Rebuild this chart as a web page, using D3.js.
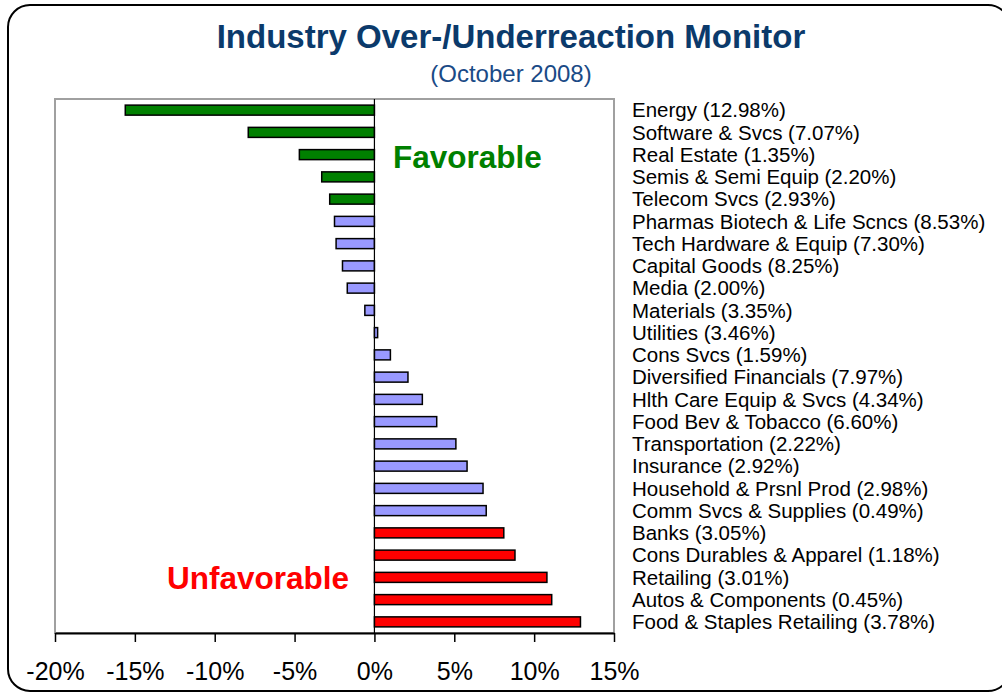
<!DOCTYPE html>
<html>
<head>
<meta charset="utf-8">
<script src="https://cdn.jsdelivr.net/npm/d3@7/dist/d3.min.js"></script>
<style>
  html, body { margin: 0; padding: 0; background: #fff; }
  svg { display: block; font-family: "Liberation Sans", Arial, sans-serif; }
</style>
</head>
<body>
<svg id="chart" width="1002" height="694"></svg>
<script>
// ---- Data ----
const categories = [
  "Energy (12.98%)", "Software & Svcs (7.07%)", "Real Estate (1.35%)",
  "Semis & Semi Equip (2.20%)", "Telecom Svcs (2.93%)",
  "Pharmas Biotech & Life Scncs (8.53%)", "Tech Hardware & Equip (7.30%)",
  "Capital Goods (8.25%)", "Media (2.00%)", "Materials (3.35%)",
  "Utilities (3.46%)", "Cons Svcs (1.59%)", "Diversified Financials (7.97%)",
  "Hlth Care Equip & Svcs (4.34%)", "Food Bev & Tobacco (6.60%)",
  "Transportation (2.22%)", "Insurance (2.92%)", "Household & Prsnl Prod (2.98%)",
  "Comm Svcs & Supplies (0.49%)", "Banks (3.05%)", "Cons Durables & Apparel (1.18%)",
  "Retailing (3.01%)", "Autos & Components (0.45%)", "Food & Staples Retailing (3.78%)"
];
const values = [
  -15.6, -7.9, -4.7, -3.3, -2.8,
  -2.5, -2.4, -2.0, -1.7, -0.6,
  0.2, 1.0, 2.1, 3.0, 3.9,
  5.1, 5.8, 6.8, 7.0,
  8.1, 8.8, 10.8, 11.1, 12.9
];
const groups = [
  "fav", "fav", "fav", "fav", "fav",
  "mid", "mid", "mid", "mid", "mid", "mid", "mid", "mid", "mid", "mid", "mid", "mid", "mid", "mid",
  "unfav", "unfav", "unfav", "unfav", "unfav"
];
const tickValues = [-20, -15, -10, -5, 0, 5, 10, 15];
const groupColors = { fav: "#008000", mid: "#9999FF", unfav: "#FF0000" };

// ---- Layout ----
const svg = d3.select("#chart");
const plot = { left: 55, right: 614, top: 99, bottom: 633 };

// Outer rounded frame
svg.append("rect")
  .attr("x", 8).attr("y", 5).attr("width", 1002).attr("height", 686)
  .attr("rx", 22).attr("ry", 22)
  .attr("fill", "#fff").attr("stroke", "#000").attr("stroke-width", 2);

// Title
svg.append("text")
  .attr("x", 511).attr("y", 48)
  .attr("text-anchor", "middle")
  .attr("font-size", 33).attr("font-weight", "bold")
  .attr("fill", "#0B3A6B")
  .text("Industry Over-/Underreaction Monitor");
svg.append("text")
  .attr("x", 511).attr("y", 82)
  .attr("text-anchor", "middle")
  .attr("font-size", 24)
  .attr("fill", "#1A4A86")
  .text("(October 2008)");

const x = d3.scaleLinear().domain([-20, 15]).range([plot.left, plot.right]);
const y = d3.scaleBand().domain(categories).range([plot.top, plot.bottom])
  .paddingInner(0.55).paddingOuter(0.275);

// Plot area border
svg.append("rect")
  .attr("x", plot.left).attr("y", plot.top)
  .attr("width", plot.right - plot.left).attr("height", plot.bottom - plot.top)
  .attr("fill", "#fff").attr("stroke", "#A0A0A0").attr("stroke-width", 2);

// Bars
const data = categories.map((c, i) => ({ c, v: values[i], g: groups[i] }));
svg.append("g").selectAll("rect").data(data).join("rect")
  .attr("x", d => x(Math.min(0, d.v)))
  .attr("width", d => Math.abs(x(d.v) - x(0)))
  .attr("y", d => y(d.c))
  .attr("height", y.bandwidth())
  .attr("fill", d => groupColors[d.g])
  .attr("stroke", "#000").attr("stroke-width", 1.5);

// Zero (category) axis line
svg.append("line")
  .attr("x1", x(0)).attr("x2", x(0))
  .attr("y1", plot.top).attr("y2", plot.bottom)
  .attr("stroke", "#000").attr("stroke-width", 1.2);

// X axis
const xAxis = d3.axisBottom(x)
  .tickValues(tickValues)
  .tickFormat(d => d + "%")
  .tickSize(9).tickSizeOuter(0).tickPadding(20);
const gx = svg.append("g")
  .attr("transform", `translate(0,${plot.bottom})`)
  .call(xAxis);
gx.select(".domain").attr("stroke", "#000").attr("stroke-width", 2);
gx.selectAll(".tick line").attr("stroke", "#000").attr("stroke-width", 1.5);
gx.selectAll(".tick text")
  .attr("font-size", 25).attr("fill", "#000")
  .attr("font-family", "'Liberation Sans', Arial, sans-serif");

// Category labels on right
svg.append("g").selectAll("text").data(data).join("text")
  .attr("x", 632)
  .attr("y", d => y(d.c) + y.bandwidth() / 2)
  .attr("dy", "0.35em")
  .attr("font-size", 20.5).attr("fill", "#000")
  .text(d => d.c);

// Annotations
svg.append("text")
  .attr("x", 393).attr("y", 168)
  .attr("font-size", 31.5).attr("font-weight", "bold")
  .attr("fill", "#008000")
  .text("Favorable");
svg.append("text")
  .attr("x", 167).attr("y", 589)
  .attr("font-size", 31.5).attr("font-weight", "bold")
  .attr("fill", "#FF0000")
  .text("Unfavorable");
</script>
</body>
</html>
